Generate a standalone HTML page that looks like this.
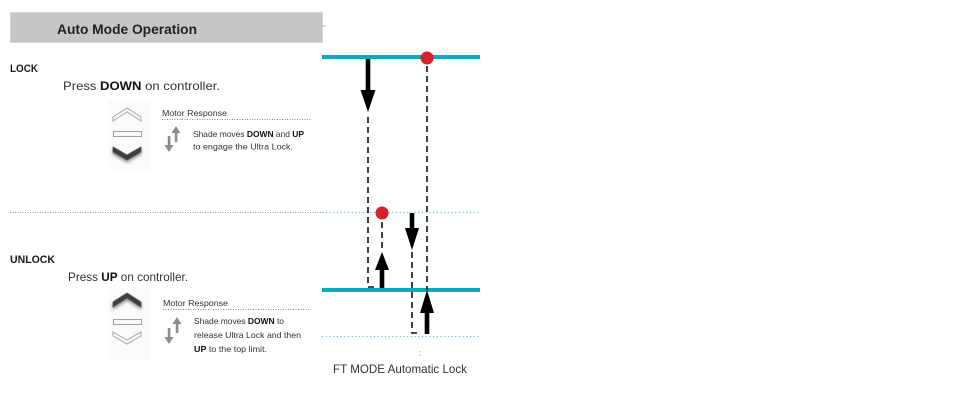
<!DOCTYPE html>
<html><head><meta charset="utf-8">
<style>
html,body{margin:0;padding:0;background:#fff;}
svg{display:block;}
text{font-family:"Liberation Sans",sans-serif;}
</style></head>
<body>
<svg width="969" height="404" viewBox="0 0 969 404" xmlns="http://www.w3.org/2000/svg">
<defs>
<filter id="sh" x="-30%" y="-50%" width="160%" height="220%">
<feGaussianBlur in="SourceAlpha" stdDeviation="1.5"/>
<feOffset dx="0" dy="2" result="b"/>
<feComponentTransfer><feFuncA type="linear" slope="0.45"/></feComponentTransfer>
<feMerge><feMergeNode/><feMergeNode in="SourceGraphic"/></feMerge>
</filter>
</defs>

<!-- header -->
<rect x="10.5" y="12.5" width="312" height="30" fill="#c6c6c6" stroke="#d6d6d6" stroke-width="1"/>
<line x1="322" y1="26" x2="326" y2="26" stroke="#b0b0b0" stroke-width="1"/>
<text x="57" y="34" font-size="14" font-weight="bold" fill="#222" textLength="140" lengthAdjust="spacingAndGlyphs">Auto Mode Operation</text>

<!-- LOCK -->
<text x="10" y="72" font-size="11" font-weight="bold" fill="#1a1a1a" textLength="28" lengthAdjust="spacingAndGlyphs">LOCK</text>
<text x="63" y="90" font-size="12" fill="#333" textLength="157" lengthAdjust="spacingAndGlyphs">Press <tspan font-weight="bold" fill="#111">DOWN</tspan> on controller.</text>

<!-- icons top -->
<rect x="108" y="100" width="42" height="70" fill="#fbfbfb"/>
<polygon points="113,117 127,108 141,117 141,121 127,112 113,121" fill="#f7f7f7" stroke="#a8a8a8" stroke-width="1"/>
<rect x="113.5" y="131.5" width="28" height="5" fill="#fafafa" stroke="#a0a0a0" stroke-width="1"/>
<polygon points="113,147 127,155 141,147 141,152 127,160 113,152" fill="#3e3e3e" stroke="#555" stroke-width="0.8" filter="url(#sh)"/>

<text x="162" y="116" font-size="8.5" fill="#333" textLength="65" lengthAdjust="spacingAndGlyphs">Motor Response</text>
<line x1="162" y1="119.5" x2="312" y2="119.5" stroke="#888" stroke-width="1" stroke-dasharray="1,1.5"/>
<!-- double arrow top -->
<g fill="#8c8c8c">
<rect x="174.8" y="131" width="2.6" height="11"/>
<polygon points="171.5,133 176,126 180.5,133"/>
<rect x="167.8" y="136" width="2.6" height="11"/>
<polygon points="164.5,145 169,152 173.5,145"/>
</g>
<text x="193" y="137" font-size="8.5" fill="#333" textLength="111" lengthAdjust="spacingAndGlyphs">Shade moves <tspan font-weight="bold" fill="#111">DOWN</tspan> and <tspan font-weight="bold" fill="#111">UP</tspan></text>
<text x="193" y="149.5" font-size="8.5" fill="#333" textLength="100" lengthAdjust="spacingAndGlyphs">to engage the Ultra Lock.</text>

<!-- divider -->
<line x1="10" y1="212.5" x2="322" y2="212.5" stroke="#9a9a9a" stroke-width="1" stroke-dasharray="1,1.5"/>
<line x1="322" y1="212.5" x2="480" y2="212.5" stroke="#5cc6d6" stroke-width="1.2" stroke-dasharray="1.2,2.5"/>

<!-- UNLOCK -->
<text x="10" y="263" font-size="11" font-weight="bold" fill="#1a1a1a" textLength="45" lengthAdjust="spacingAndGlyphs">UNLOCK</text>
<text x="68" y="281" font-size="12" fill="#333" textLength="120" lengthAdjust="spacingAndGlyphs">Press <tspan font-weight="bold" fill="#111">UP</tspan> on controller.</text>

<!-- icons bottom -->
<rect x="108" y="288" width="42" height="72" fill="#fbfbfb"/>
<polygon points="113,302 127,293 141,302 141,307 127,298 113,307" fill="#3e3e3e" stroke="#555" stroke-width="0.8" filter="url(#sh)"/>
<rect x="113.5" y="319.5" width="28" height="5" fill="#fafafa" stroke="#a0a0a0" stroke-width="1"/>
<polygon points="113,332 127,340 141,332 141,336 127,344 113,336" fill="#f7f7f7" stroke="#a8a8a8" stroke-width="1"/>

<text x="163" y="306" font-size="8.5" fill="#333" textLength="65" lengthAdjust="spacingAndGlyphs">Motor Response</text>
<line x1="163" y1="309.5" x2="311" y2="309.5" stroke="#888" stroke-width="1" stroke-dasharray="1,1.5"/>
<g fill="#8c8c8c">
<rect x="175.8" y="322" width="2.6" height="11"/>
<polygon points="172.5,324 177,317 181.5,324"/>
<rect x="167.8" y="328" width="2.6" height="11"/>
<polygon points="164.5,337 169,344 173.5,337"/>
</g>
<text x="194" y="324" font-size="8.5" fill="#333" textLength="90" lengthAdjust="spacingAndGlyphs">Shade moves <tspan font-weight="bold" fill="#111">DOWN</tspan> to</text>
<text x="194" y="338" font-size="8.5" fill="#333" textLength="107" lengthAdjust="spacingAndGlyphs">release Ultra Lock and then</text>
<text x="194" y="352" font-size="8.5" fill="#333" textLength="73" lengthAdjust="spacingAndGlyphs"><tspan font-weight="bold" fill="#111">UP</tspan> to the top limit.</text>

<!-- right diagram -->
<line x1="322" y1="57" x2="480" y2="57" stroke="#0aaabd" stroke-width="4"/>
<line x1="322" y1="290" x2="480" y2="290" stroke="#0aaabd" stroke-width="4"/>
<line x1="322" y1="336.5" x2="480" y2="336.5" stroke="#5cc6d6" stroke-width="1.2" stroke-dasharray="1.2,2.5"/>
<line x1="420" y1="351" x2="420" y2="358" stroke="#7fbfe0" stroke-width="1.2" stroke-dasharray="1.2,2.5"/>

<!-- dashed lines -->
<g stroke="#111" stroke-width="1.6" stroke-dasharray="6,4" fill="none">
<polyline points="368,117 368,287 374,287"/>
<line x1="427" y1="66" x2="427" y2="290"/>
<line x1="382" y1="222" x2="382" y2="252"/>
<polyline points="412,252 412,333 418,333"/>
</g>

<!-- arrows -->
<g fill="#000">
<rect x="365.7" y="59" width="4.6" height="33"/>
<polygon points="360.5,90 375.5,90 368,112"/>
<rect x="424.7" y="308" width="4.6" height="26"/>
<polygon points="420,313 434,313 427,290"/>
<rect x="379.7" y="266" width="4.6" height="22"/>
<polygon points="375,270 389,270 382,252"/>
<rect x="409.7" y="213" width="4.6" height="17"/>
<polygon points="405,228 419,228 412,250"/>
</g>

<!-- red dots -->
<circle cx="427" cy="58" r="6.5" fill="#d6202e"/>
<circle cx="382" cy="213" r="6.5" fill="#d6202e"/>

<text x="333" y="373" font-size="12" fill="#333" textLength="134" lengthAdjust="spacingAndGlyphs">FT MODE Automatic Lock</text>
</svg>
</body></html>
